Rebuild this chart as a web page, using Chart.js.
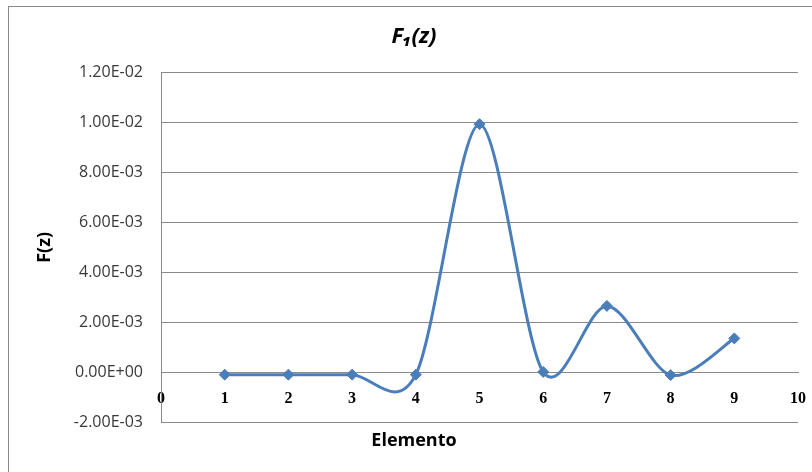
<!DOCTYPE html>
<html>
<head>
<meta charset="utf-8">
<script src="https://cdn.jsdelivr.net/npm/chart.js@4.4.1/dist/chart.umd.min.js"></script>
<style>
  html, body { margin: 0; padding: 0; background: #fff; overflow: hidden; }
  #wrap { position: relative; width: 812px; height: 472px; overflow: hidden; }
  #frame { position: absolute; left: 8px; top: 6px; width: 900px; height: 600px; border: 1px solid #8a8a8a; }
  canvas { position: absolute; left: 0; top: 0; }
</style>
</head>
<body>
<div id="wrap">
  <div id="frame"></div>
  <canvas id="c" width="812" height="472"></canvas>
</div>
<script>
// Element index and F(z) value at each element
const elementos = [1, 2, 3, 4, 5, 6, 7, 8, 9];
const fz = [-9e-5, -9e-5, -9e-5, -9e-5, 9.93e-3, 2e-5, 2.66e-3, -1.1e-4, 1.36e-3];

const chartTitle = 'F\u2081(z)';
const xTitle = 'Elemento';
const yTitle = 'F(z)';

const yMin = -0.002, yMax = 0.012, yStep = 0.002;
const xMin = 0, xMax = 10, xStep = 1;

// Scientific notation with a two-digit exponent, e.g. 1.20E-02
function sci(v) {
  if (Math.abs(v) < 1e-12) return '0.00E+00';
  const parts = v.toExponential(2).split('e');
  const n = parseInt(parts[1], 10);
  return parts[0] + 'E' + (n < 0 ? '-' : '+') + String(Math.abs(n)).padStart(2, '0');
}

const blue = '#4a7ebb';
const gridGray = '#8a8a8a';

// Uniform Catmull-Rom style smoothing: each point's bezier handles are
// a fixed fraction of the chord between its neighbours (pixel space).
const smoothFactor = 0.155;
const uniformSmoothing = {
  id: 'uniformSmoothing',
  beforeDatasetDraw(chart, args) {
    const meta = args.meta;
    if (!meta.dataset) return;
    meta.dataset.updateControlPoints(chart.chartArea, meta.iAxis);
    const pts = meta.data;
    for (let i = 0; i < pts.length; i++) {
      const p = pts[i];
      const prev = pts[i - 1] || p;
      const next = pts[i + 1] || p;
      const dx = (next.x - prev.x) * smoothFactor;
      const dy = (next.y - prev.y) * smoothFactor;
      p.cp1x = p.x - dx; p.cp1y = p.y - dy;
      p.cp2x = p.x + dx; p.cp2y = p.y + dy;
    }
    meta.dataset._path = undefined;
  }
};

new Chart(document.getElementById('c'), {
  type: 'line',
  data: {
    datasets: [{
      data: elementos.map((x, i) => ({ x: x, y: fz[i] })),
      borderColor: blue,
      backgroundColor: blue,
      borderWidth: 3,
      pointStyle: 'rectRot',
      pointRadius: 5.5,
      pointBorderWidth: 1,
      tension: 0.5,
      fill: false
    }]
  },
  plugins: [uniformSmoothing],
  options: {
    responsive: false,
    animation: false,
    devicePixelRatio: 1,
    layout: { padding: { left: 30, right: 14, top: 0, bottom: 0 } },
    plugins: {
      legend: { display: false },
      tooltip: { enabled: false },
      title: {
        display: true,
        text: chartTitle,
        color: '#000',
        font: { family: '"Open Sans"', size: 22, weight: 'bold', style: 'italic' },
        padding: { top: 24, bottom: 22 }
      },
      subtitle: {
        display: true,
        position: 'bottom',
        text: xTitle,
        color: '#000',
        font: { family: '"Open Sans"', size: 18, weight: 'bold' },
        padding: { top: 8, bottom: 20 }
      }
    },
    scales: {
      x: {
        type: 'linear',
        position: { y: 0 },
        min: xMin,
        max: xMax,
        ticks: {
          stepSize: xStep,
          autoSkip: false,
          maxRotation: 0,
          padding: 17,
          color: '#000',
          font: { family: '"Liberation Serif"', size: 16, weight: 'bold' }
        },
        grid: { display: false, drawTicks: false },
        border: { display: true, color: gridGray, width: 1 },
        afterFit(scale) { scale.paddingLeft = 0; scale.paddingRight = 0; }
      },
      y: {
        min: yMin,
        max: yMax,
        ticks: {
          stepSize: yStep,
          padding: 18,
          color: '#383838',
          font: { family: '"Open Sans"', size: 16 },
          callback: (v) => sci(v)
        },
        grid: { color: gridGray, drawTicks: false },
        border: { color: gridGray },
        title: {
          display: true,
          text: yTitle,
          color: '#000',
          font: { family: '"Open Sans"', size: 18, weight: 'bold' },
          padding: { top: 4, bottom: 0 }
        },
        afterFit(scale) { scale.width = 131; }
      }
    }
  }
});
</script>
</body>
</html>
